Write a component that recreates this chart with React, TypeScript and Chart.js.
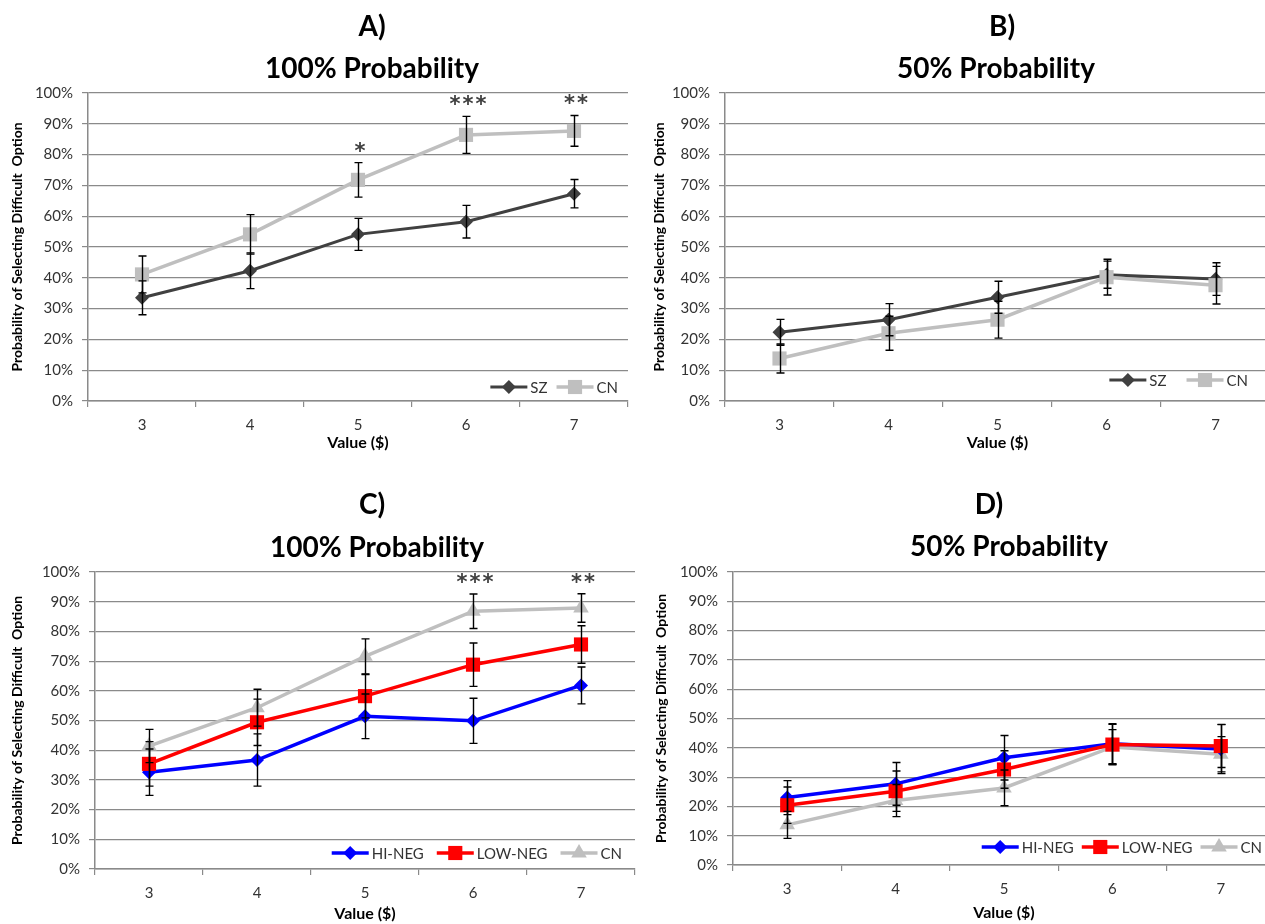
import React, { useEffect, useRef } from 'react';
import { Chart, registerables } from 'chart.js';

Chart.register(...registerables);

const FONT = 'Lato, "Open Sans", "DejaVu Sans", sans-serif';

const categories = ['3', '4', '5', '6', '7'];
const yTicks = [0, 10, 20, 30, 40, 50, 60, 70, 80, 90, 100];

// Panel A: 100% probability, SZ vs CN
const szA = [33.5, 42.3, 54.1, 58.2, 67.3];
const szAErr = [5.5, 5.8, 5.2, 5.3, 4.6];
const cnA = [41.1, 54.1, 71.8, 86.4, 87.7];
const cnAErr = [6.0, 6.4, 5.6, 6.0, 5.0];
const sigA = ['', '', '*', '***', '**'];

// Panel B: 50% probability, SZ vs CN
const szB = [22.3, 26.4, 33.7, 41.0, 39.6];
const szBErr = [4.2, 5.2, 5.2, 4.4, 5.3];
const cnB = [13.8, 22.0, 26.4, 40.2, 37.6];
const cnBErr = [4.7, 5.5, 6.0, 5.8, 6.1];
const sigB = ['', '', '', '', ''];

// Panel C: 100% probability, HI-NEG / LOW-NEG / CN
const hiC = [32.6, 36.7, 51.4, 49.9, 61.8];
const hiCErr = [7.8, 8.8, 7.5, 7.6, 6.2];
const lowC = [35.4, 49.4, 58.2, 68.8, 75.6];
const lowCErr = [7.5, 7.8, 7.3, 7.3, 6.3];
const cnC = [41.4, 54.3, 71.6, 86.8, 87.9];
const cnCErr = [5.6, 6.2, 5.9, 5.8, 4.8];
const sigC = ['', '', '', '***', '**'];

// Panel D: 50% probability, HI-NEG / LOW-NEG / CN
const hiD = [23.0, 27.7, 36.6, 41.4, 39.6];
const hiDErr = [5.8, 7.3, 7.6, 6.8, 8.4];
const lowD = [20.4, 25.2, 32.6, 41.1, 40.6];
const lowDErr = [6.2, 6.9, 6.4, 6.9, 7.3];
const cnD = [13.7, 22.0, 26.3, 40.3, 37.8];
const cnDErr = [4.6, 5.5, 6.1, 5.9, 6.0];
const sigD = ['', '', '', '', ''];

const DARK = '#404040';
const LIGHT = '#bfbfbf';
const BLUE = '#0000ff';
const RED = '#ff0000';
const GRID = '#8a8a8a';

type Series = {
  label: string;
  data: number[];
  err: number[];
  color: string;
  style: string;
  radius: number;
  width: number;
  order: number;
};

type PanelSpec = {
  left: number;
  top: number;
  w: number;
  h: number;
  padTop: number;
  padRight: number;
  yWidth: number;
  xHeight: number;
  titles: { text: string; x: number; y: number }[];
  yTitlePad: number;
  xTitlePad: number;
  legend: { bottom: number; right: number; gap: number };
  series: Series[];
  sig: string[];
};

function drawMarker(ctx: CanvasRenderingContext2D, style: string, x: number, y: number, r: number) {
  ctx.beginPath();
  if (style === 'rectRot') {
    ctx.moveTo(x - r, y);
    ctx.lineTo(x, y - r);
    ctx.lineTo(x + r, y);
    ctx.lineTo(x, y + r);
  } else if (style === 'rect') {
    const s = Math.SQRT1_2 * r;
    ctx.rect(x - s, y - s, 2 * s, 2 * s);
  } else {
    ctx.moveTo(x, y - r);
    ctx.lineTo(x + r * Math.sin(Math.PI * 2 / 3), y + r * 0.5);
    ctx.lineTo(x - r * Math.sin(Math.PI * 2 / 3), y + r * 0.5);
  }
  ctx.closePath();
  ctx.fill();
}

const panelPlugin = {
  id: 'panelExtras',
  afterDatasetsDraw(chart: any, _args: any, opts: any) {
    const ctx: CanvasRenderingContext2D = chart.ctx;
    const ys = chart.scales.y;
    const xs = chart.scales.x;
    const spec: PanelSpec = opts.spec;
    const area = chart.chartArea;

    // error bars
    ctx.save();
    ctx.strokeStyle = '#000';
    ctx.lineWidth = 1.4;
    spec.series.forEach((s, di) => {
      const meta = chart.getDatasetMeta(di);
      meta.data.forEach((pt: any, i: number) => {
        const v = s.data[i];
        const e = s.err[i];
        const x = Math.round(pt.x) + 0.5;
        const yt = ys.getPixelForValue(v + e);
        const yb = ys.getPixelForValue(v - e);
        ctx.beginPath();
        ctx.moveTo(x, yt);
        ctx.lineTo(x, yb);
        ctx.moveTo(x - 4, yt);
        ctx.lineTo(x + 4, yt);
        ctx.moveTo(x - 4, yb);
        ctx.lineTo(x + 4, yb);
        ctx.stroke();
      });
    });
    ctx.restore();

    // significance asterisks
    ctx.save();
    ctx.fillStyle = DARK;
    ctx.font = 'bold 21px "DejaVu Sans", sans-serif';
    (ctx as any).letterSpacing = '2px';
    ctx.textAlign = 'center';
    ctx.textBaseline = 'alphabetic';
    spec.sig.forEach((t, i) => {
      if (!t) return;
      let top = 0;
      spec.series.forEach((s) => {
        top = Math.max(top, s.data[i] + s.err[i]);
      });
      const x = xs.getPixelForValue(i) + 3;
      const y = ys.getPixelForValue(top) - 18;
      ctx.fillText(t, x, y + 13);
    });
    ctx.restore();

    // legend inside plot area, bottom right
    ctx.save();
    ctx.font = '15px ' + FONT;
    const iconW = 37;
    const widths = spec.series.map((s) => iconW + 3 + ctx.measureText(s.label).width);
    const total = widths.reduce((a, b) => a + b, 0) + spec.legend.gap * (widths.length - 1);
    let lx = area.right - spec.legend.right - total;
    const ly = area.bottom - spec.legend.bottom;
    spec.series.forEach((s, i) => {
      ctx.strokeStyle = s.color;
      ctx.lineWidth = s.width;
      ctx.beginPath();
      ctx.moveTo(lx, ly);
      ctx.lineTo(lx + iconW, ly);
      ctx.stroke();
      ctx.fillStyle = s.color;
      drawMarker(ctx, s.style, lx + iconW / 2, ly, s.radius);
      ctx.fillStyle = '#333';
      ctx.textAlign = 'left';
      ctx.textBaseline = 'middle';
      ctx.fillText(s.label, lx + iconW + 3, ly + 1);
      lx += widths[i] + spec.legend.gap;
    });
    ctx.restore();
  },
  afterDraw(chart: any, _args: any, opts: any) {
    const ctx: CanvasRenderingContext2D = chart.ctx;
    const spec: PanelSpec = opts.spec;
    ctx.save();
    ctx.fillStyle = '#000';
    ctx.font = 'bold 28px ' + FONT;
    ctx.textAlign = 'center';
    ctx.textBaseline = 'middle';
    spec.titles.forEach((t) => ctx.fillText(t.text, t.x, t.y));
    ctx.restore();
  },
};

function Panel({ spec }: { spec: PanelSpec }) {
  const ref = useRef<HTMLCanvasElement | null>(null);
  useEffect(() => {
    if (!ref.current) return;
    const chart = new Chart(ref.current, {
      type: 'line',
      data: {
        labels: categories,
        datasets: spec.series.map((s) => ({
          label: s.label,
          data: s.data,
          borderColor: s.color,
          backgroundColor: s.color,
          borderWidth: s.width,
          pointStyle: s.style as any,
          pointRadius: s.radius,
          pointHoverRadius: s.radius,
          pointBorderWidth: 0,
          pointBackgroundColor: s.color,
          tension: 0,
          order: s.order,
        })),
      },
      options: {
        responsive: false,
        animation: false,
        events: [],
        layout: { padding: { top: spec.padTop, right: spec.padRight, left: 0, bottom: 0 } },
        scales: {
          x: {
            type: 'category',
            offset: true,
            grid: {
              offset: true,
              drawOnChartArea: false,
              drawTicks: true,
              tickLength: 6,
              color: GRID,
              lineWidth: 1.2,
            },
            border: { display: true, color: GRID, width: 1.5 },
            ticks: { padding: 9, color: '#333', font: { size: 15, family: FONT } },
            title: {
              display: true,
              text: 'Value ($)',
              color: '#000',
              font: { size: 16, weight: 'bold', family: FONT },
              padding: { top: 0, bottom: spec.xTitlePad },
            },
            afterFit: (scale: any) => {
              scale.height = spec.xHeight;
            },
          },
          y: {
            min: 0,
            max: 100,
            afterBuildTicks: (scale: any) => {
              scale.ticks = yTicks.map((v) => ({ value: v }));
            },
            grid: { color: GRID, lineWidth: 1.2, drawTicks: true, tickLength: 6 },
            border: { display: true, color: GRID, width: 1.5 },
            ticks: {
              padding: 9,
              color: '#333',
              font: { size: 15, family: FONT },
              callback: (v: any) => v + '%',
            },
            title: {
              display: true,
              text: 'Probability of Selecting Difficult  Option',
              color: '#000',
              font: { size: 14, weight: 'bold', family: FONT },
              padding: { top: spec.yTitlePad, bottom: 0 },
            },
            afterFit: (scale: any) => {
              scale.width = spec.yWidth;
            },
          },
        },
        plugins: {
          legend: { display: false },
          title: { display: false },
          tooltip: { enabled: false },
          panelExtras: { spec },
        } as any,
      },
      plugins: [panelPlugin as any],
    });
    return () => chart.destroy();
  }, [spec]);
  return (
    <canvas
      ref={ref}
      width={spec.w}
      height={spec.h}
      style={{ position: 'absolute', left: spec.left, top: spec.top, width: spec.w, height: spec.h }}
    />
  );
}

const szStyle = { color: DARK, style: 'rectRot', radius: 7, width: 3 };
const cnSqStyle = { color: LIGHT, style: 'rect', radius: 10, width: 3.5 };
const hiStyle = { color: BLUE, style: 'rectRot', radius: 7, width: 3.5 };
const lowStyle = { color: RED, style: 'rect', radius: 10, width: 3.5 };
const cnTriStyle = { color: LIGHT, style: 'triangle', radius: 9, width: 3.5 };

const panels: PanelSpec[] = [
  {
    left: 0, top: 0, w: 640, h: 460, padTop: 93, padRight: 12, yWidth: 88, xHeight: 59,
    titles: [
      { text: 'A)', x: 372, y: 27 },
      { text: '100% Probability', x: 372, y: 69 },
    ],
    yTitlePad: 9, xTitlePad: 8,
    legend: { bottom: 14, right: 10, gap: 9 },
    series: [
      { label: 'SZ', data: szA, err: szAErr, ...szStyle, order: 1 },
      { label: 'CN', data: cnA, err: cnAErr, ...cnSqStyle, order: 0 },
    ],
    sig: sigA,
  },
  {
    left: 640, top: 0, w: 640, h: 460, padTop: 93, padRight: 8, yWidth: 85, xHeight: 59,
    titles: [
      { text: 'B)', x: 362, y: 27 },
      { text: '50% Probability', x: 356, y: 69 },
    ],
    yTitlePad: 11, xTitlePad: 8,
    legend: { bottom: 21, right: 22, gap: 20 },
    series: [
      { label: 'SZ', data: szB, err: szBErr, ...szStyle, order: 1 },
      { label: 'CN', data: cnB, err: cnBErr, ...cnSqStyle, order: 0 },
    ],
    sig: sigB,
  },
  {
    left: 0, top: 470, w: 645, h: 454, padTop: 102, padRight: 6, yWidth: 95, xHeight: 55,
    titles: [
      { text: 'C)', x: 372, y: 35 },
      { text: '100% Probability', x: 377, y: 78 },
    ],
    yTitlePad: 9, xTitlePad: 1,
    legend: { bottom: 16, right: 13, gap: 13 },
    series: [
      { label: 'HI-NEG', data: hiC, err: hiCErr, ...hiStyle, order: 1 },
      { label: 'LOW-NEG', data: lowC, err: lowCErr, ...lowStyle, order: 0 },
      { label: 'CN', data: cnC, err: cnCErr, ...cnTriStyle, order: 2 },
    ],
    sig: sigC,
  },
  {
    left: 645, top: 470, w: 640, h: 454, padTop: 102, padRight: 7, yWidth: 88, xHeight: 59,
    titles: [
      { text: 'D)', x: 344, y: 35 },
      { text: '50% Probability', x: 364, y: 77 },
    ],
    yTitlePad: 8, xTitlePad: 2,
    legend: { bottom: 18, right: 13, gap: 8 },
    series: [
      { label: 'HI-NEG', data: hiD, err: hiDErr, ...hiStyle, order: 1 },
      { label: 'LOW-NEG', data: lowD, err: lowDErr, ...lowStyle, order: 0 },
      { label: 'CN', data: cnD, err: cnDErr, ...cnTriStyle, order: 2 },
    ],
    sig: sigD,
  },
];

export default function App() {
  return (
    <div
      style={{
        position: 'fixed',
        left: 0,
        top: 0,
        width: 1265,
        height: 924,
        overflow: 'hidden',
        background: '#fff',
      }}
    >
      {panels.map((p, i) => (
        <Panel key={i} spec={p} />
      ))}
    </div>
  );
}
